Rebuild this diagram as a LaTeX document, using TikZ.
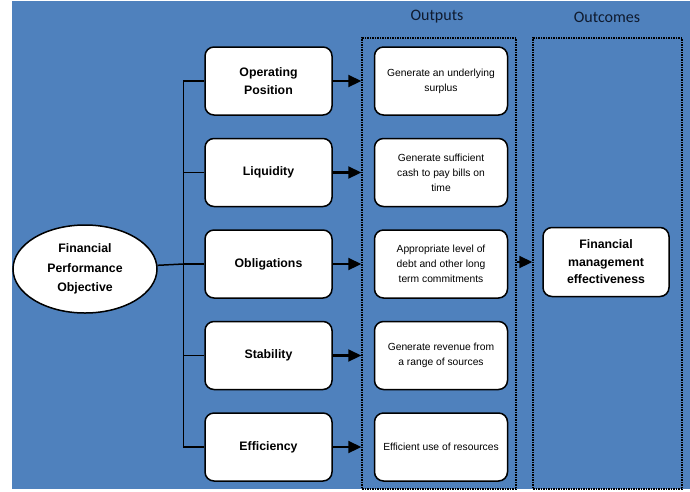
\documentclass[tikz,border=0pt]{standalone}
\usepackage{fontspec}
\setmainfont{Liberation Sans}
\newfontfamily\headfont{Carlito}
\definecolor{panelblue}{HTML}{4F81BD}
\definecolor{headnavy}{HTML}{0F1A2E}
\usetikzlibrary{shapes.geometric,arrows.meta,positioning}

\begin{document}
\begin{tikzpicture}[x=1pt, y=-1pt, node distance=22pt,
  mainbox/.style={draw, line width=1.5pt, fill=white, rounded corners=9pt, minimum width=127pt, minimum height=68pt, align=center, font=\fontsize{12.3}{18}\selectfont\bfseries},
  outbox/.style={draw, line width=1.5pt, fill=white, rounded corners=9pt, minimum width=133pt, minimum height=68pt, align=center, font=\fontsize{10.3}{15}\selectfont},
  dotframe/.style={draw, densely dotted, line width=1.5pt, minimum height=451pt, inner sep=0pt},
  heading/.style={font=\headfont\fontsize{16}{16}\selectfont, text=headnavy},
  link/.style={line width=1.5pt},
  arr/.style={line width=2.2pt, -{Triangle[length=13pt,width=12pt]}}]
  \useasboundingbox (0,0) rectangle (690,491);
  \fill[white] (0,0) rectangle (690,491);
  \fill[panelblue] (12,1) rectangle (690,489);

  % dotted columns
  \node[dotframe, minimum width=154pt] (outframe) at (439,263.5) {};
  \node[dotframe, minimum width=149pt] (outcframe) at (607.5,263.5) {};
  \node[heading] (outlbl) at (437,17) {Outputs};
  \node[heading] (outclbl) at (607,17) {Outcomes};

  % objective
  \node[ellipse, draw, line width=1.5pt, fill=white, minimum width=144pt, minimum height=88pt, inner sep=0pt, align=center, font=\fontsize{12.3}{19.5}\selectfont\bfseries] (obj) at (85,269) {Financial\\Performance\\Objective};

  % measures
  \node[mainbox] (oper) at (268.5,81) {Operating\\Position};
  \node[mainbox, below=of oper] (liq) {Liquidity};
  \node[mainbox, below=of liq] (oblig) {Obligations};
  \node[mainbox, below=of oblig] (stab) {Stability};
  \node[mainbox, below=of stab] (effic) {Efficiency};

  % outputs
  \node[outbox, right=41pt of oper] (surplus) {Generate an underlying\\surplus};
  \node[outbox, right=41pt of liq] (cash) {Generate sufficient\\cash to pay bills on\\time};
  \node[outbox, right=41pt of oblig] (debt) {Appropriate level of\\debt and other long\\term commitments};
  \node[outbox, right=41pt of stab] (revenue) {Generate revenue from\\a range of sources};
  \node[outbox, right=41pt of effic] (resources) {Efficient use of resources};

  % outcome
  \node[mainbox, minimum width=126pt, minimum height=69pt, font=\fontsize{12.3}{17.5}\selectfont\bfseries] (effect) at (606,262) {Financial\\management\\effectiveness};

  % bus
  \path (oblig.west) ++(-21,0) coordinate (bus);
  \draw[link] (oper.west) -- ++(-21,0) |- (effic.west);
  \foreach \n in {liq,oblig,stab}
    \draw[link] (\n.west) -- ++(-21,0);
  \draw[link] (bus) -- (obj);

  % arrows
  \foreach \n in {oper,liq,oblig,stab,effic}
    \draw[arr] (\n.east) -- (\n.east -| outframe.west);
  \draw[arr] (outframe.east |- effect) -- (outcframe.west |- effect);
\end{tikzpicture}
\end{document}
